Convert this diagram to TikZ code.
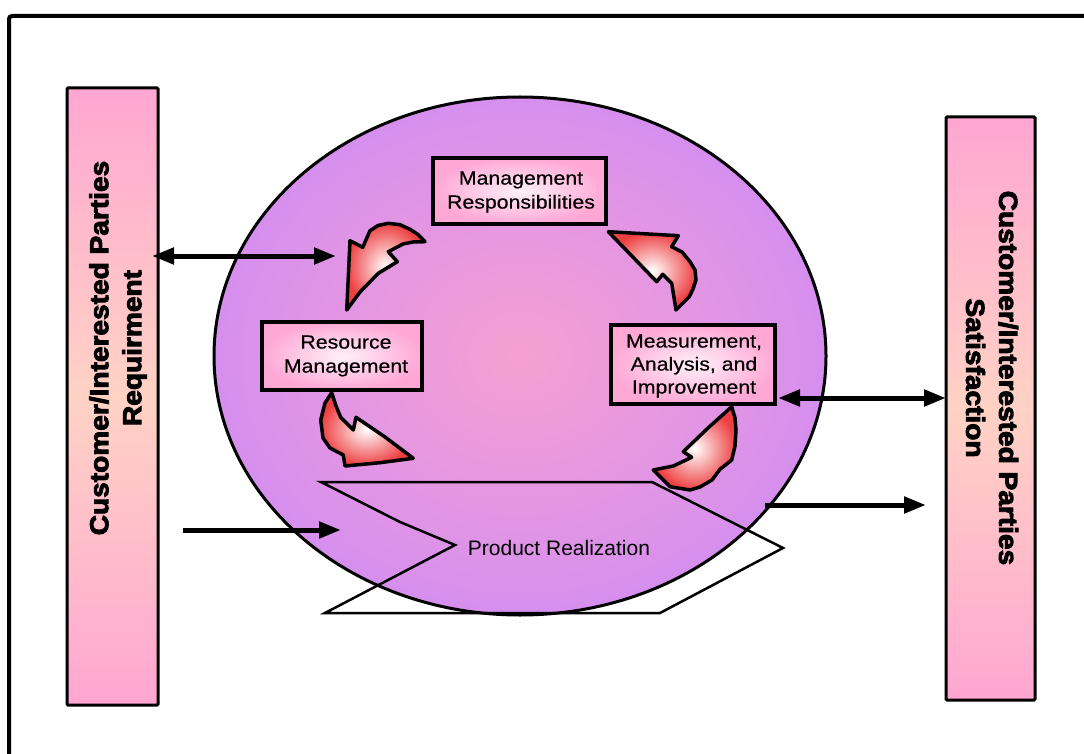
\documentclass[tikz,border=0pt]{standalone}
\usepackage{fontspec}
\setmainfont{Liberation Sans}
\newfontfamily\boxfont{Liberation Sans}[FakeStretch=1.12,FakeBold=0.4]
\newfontfamily\barfont{Liberation Sans Bold}[FakeBold=3.5,FakeStretch=1.08]
\usetikzlibrary{arrows.meta,shapes.geometric}

\definecolor{cyclein}{RGB}{246,160,210}
\definecolor{cycleout}{RGB}{214,143,238}
\definecolor{boxpink}{RGB}{255,168,214}
\definecolor{boxlight}{RGB}{255,240,248}
\definecolor{barpink}{RGB}{255,166,210}
\definecolor{barpeach}{RGB}{255,210,196}
\definecolor{arrowred}{RGB}{238,64,66}

\tikzset{
  framebox/.style={line width=4pt, rounded corners=3pt},
  sidebar/.style={draw, line width=3pt, rounded corners=1pt, inner sep=0pt,
    top color=barpink, bottom color=barpink, middle color=barpeach},
  sidetext/.style={font=\barfont\fontsize{26}{33}\selectfont, align=center, inner sep=0pt},
  procbox/.style={draw, line width=3.5pt, inner sep=0pt, inner color=boxlight,
    outer color=boxpink},
  boxtext/.style={font=\boxfont\fontsize{19}{24}\selectfont, align=center, inner sep=0pt},
  cycleshape/.style={draw, ellipse, line width=3pt, inner sep=0pt,
    inner color=cyclein, outer color=cycleout},
  flowarrow/.style={draw, line width=3.5pt, line join=round,
    inner color=white, outer color=arrowred},
  oneway/.style={line width=5pt, -{Triangle[length=22pt,width=16pt]}},
  twoway/.style={line width=5pt, {Triangle[length=22pt,width=16pt]}-{Triangle[length=22pt,width=16pt]}},
  realize/.style={line width=2.5pt, line join=miter}
}

\begin{document}
\begin{tikzpicture}[x=1pt,y=-1pt]
\useasboundingbox (0,0) rectangle (1084,754);
\fill[white] (0,0) rectangle (1084,754);

% outer frame, running past the page on the right and bottom
\draw[framebox] (9,16) rectangle (1110,790);

% central cycle
\node[cycleshape, minimum width=612pt, minimum height=518pt] (cycle) at (520,356) {};

% product realization outline
\draw[realize] (321,482) -- (652,482) -- (783,548) -- (660,613) -- (325,613)
  -- (455,545) -- (400,522) -- cycle;
\node[font=\fontsize{21}{25}\selectfont] (prod) at (559,548) {Product Realization};

% process boxes and their labels
\node[procbox, minimum width=173pt, minimum height=66pt] (mgmt) at (519.5,191) {};
\node[boxtext] (mgmttext) at (521,192) {Management\\Responsibilities};
\node[procbox, minimum width=160pt, minimum height=68pt] (res) at (342,356) {};
\node[boxtext] (restext) at (346,356) {Resource\\Management};
\node[procbox, minimum width=164pt, minimum height=79pt] (meas) at (693,364.5) {};
\node[boxtext, font=\boxfont\fontsize{19}{23}\selectfont] (meastext) at (694,366)
  {Measurement,\\Analysis, and\\Improvement};

% curved flow arrows
\path[flowarrow] (350,240.7) -- (362.7,247.3) -- (370,230.7) -- (378,225.5)
  -- (388.3,223.3) -- (400,224.7) -- (410,229.3) -- (418,234.5) -- (425,241.7)
  -- (413,242) -- (403,244) -- (388.3,251.7) -- (397.3,261.7) -- (378.3,273.3)
  -- (360,292) -- (346.7,310) -- cycle;
\path[flowarrow] (331.7,392.7) -- (336,406) -- (340.7,417.3) -- (353.3,430) -- (356,417.3)
  -- (385,437) -- (413.3,458.3) -- (380,462.7) -- (345,466) -- (343.3,455)
  -- (330,448) -- (323,438) -- (320.7,420) -- (325,403) -- cycle;
\path[flowarrow] (731.7,406.7) -- (735,418) -- (736,430) -- (735,446) -- (731.7,460)
  -- (720,469.3) -- (712,480) -- (700,487) -- (690,490) -- (670,486.7) -- (653.3,470)
  -- (673.3,466) -- (691.7,457.3) -- (683.3,451.7) -- (708,428) -- cycle;
\path[flowarrow] (608.3,231.7) -- (678.3,235.7) -- (671.7,246.7) -- (682,252)
  -- (690,261.7) -- (695,270) -- (696,280) -- (693,289) -- (689.3,296.7)
  -- (676,310) -- (671.7,283.3) -- (662.7,274.3) -- (656.7,281.7) -- cycle;

% side bars
\node[sidebar, minimum width=91pt, minimum height=617pt] (req) at (112.5,396.5) {};
\node[sidebar, minimum width=89pt, minimum height=583pt] (sat) at (990.5,408.5) {};
\node[sidetext, rotate=90] (reqtext) at (118,348) {Customer/Interested Parties\\Requirment};
\node[sidetext, rotate=-90] (sattext) at (992,378) {Customer/Interested Parties\\Satisfaction};

% connectors between the bars and the cycle
\coordinate (reqtop) at (152,256);
\coordinate (cyctop) at (336,256);
\coordinate (reqlow) at (183,530);
\coordinate (cyclow) at (341,530);
\coordinate (measout) at (778,398);
\coordinate (satmid) at (946,398);
\coordinate (cycout) at (765,505);
\coordinate (satlow) at (926,505);
\draw[twoway] (reqtop) -- (cyctop);
\draw[oneway] (reqlow) -- (cyclow);
\draw[twoway] (measout) -- (satmid);
\draw[oneway] (cycout) -- (satlow);
\end{tikzpicture}
\end{document}
